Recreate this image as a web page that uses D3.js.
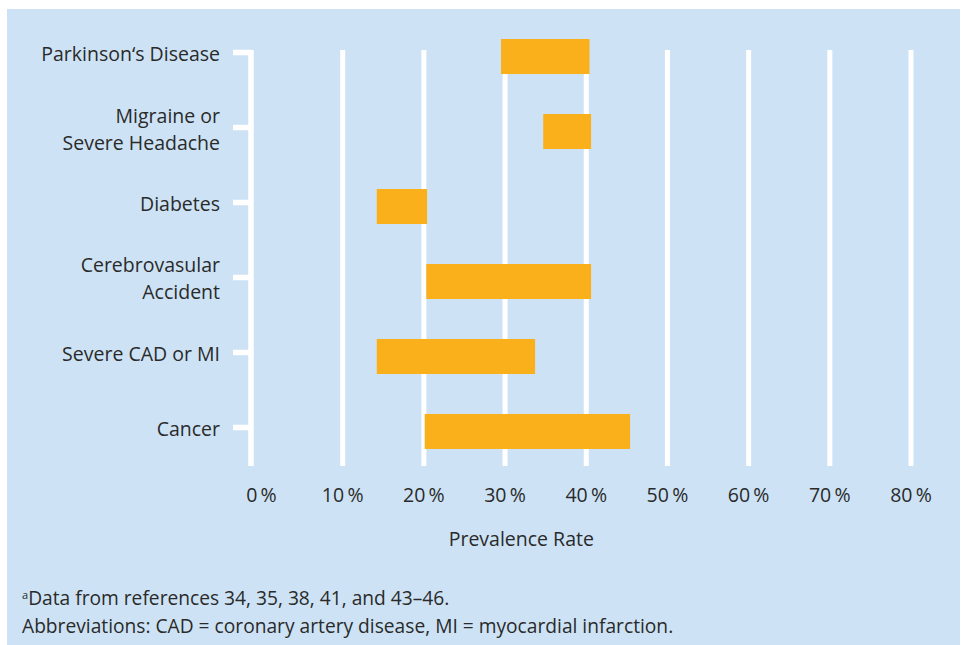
<body style="margin:0;background:#fff">
<div id="chart"></div>
<script src="https://d3js.org/d3.v7.min.js"></script>
<script>
// data
var categories = ["Parkinson\u2018s Disease", "Migraine or\nSevere Headache", "Diabetes", "Cerebrovasular\nAccident", "Severe CAD or MI", "Cancer"];
var lowValues  = [29.5, 34.7, 14.2, 20.3, 14.2, 20.1];
var highValues = [40.4, 40.6, 20.4, 40.6, 33.7, 45.4];
var tickValues = [0, 10, 20, 30, 40, 50, 60, 70, 80];
var tickLabels = ["0\u2009%", "10\u2009%", "20\u2009%", "30\u2009%", "40\u2009%", "50\u2009%", "60\u2009%", "70\u2009%", "80\u2009%"];
var xTitle = "Prevalence Rate";
var notes = ["Data from references 34, 35, 38, 41, and 43\u201346.", "Abbreviations: CAD = coronary artery disease, MI = myocardial infarction."];

var W = 961, H = 645;
var font = "'Open Sans', Roboto, sans-serif";
var ink = "#2a2a2a";
var fs = 19.5;

var svg = d3.select("#chart").append("svg")
    .attr("width", W).attr("height", H)
    .style("font-family", font);

// panel
svg.append("rect")
    .attr("x", 7).attr("y", 9)
    .attr("width", 953).attr("height", H - 9)
    .attr("fill", "#cde3f5");

var x = d3.scaleLinear().domain([0, 80]).range([261.5, 911]);
var y = d3.scaleBand().domain(categories).range([19, 469]).paddingInner(0.533).paddingOuter(0.2667);

var gridTop = 50, gridBottom = 466;

// gridlines
svg.append("g").selectAll("line")
    .data(tickValues.slice(1))
    .join("line")
    .attr("x1", d => x(d)).attr("x2", d => x(d))
    .attr("y1", gridTop).attr("y2", gridBottom)
    .attr("stroke", "#fff").attr("stroke-width", 5);

// y axis line + ticks (ticks sit ~4px above bar centre)
var axisX = 251;
svg.append("line")
    .attr("x1", axisX).attr("x2", axisX)
    .attr("y1", gridTop).attr("y2", gridBottom)
    .attr("stroke", "#fff").attr("stroke-width", 5.5);

var tickY = d => y(d) + y.bandwidth() / 2 - 4;

svg.append("g").selectAll("line")
    .data(categories)
    .join("line")
    .attr("x1", 233).attr("x2", axisX)
    .attr("y1", tickY).attr("y2", tickY)
    .attr("stroke", "#fff").attr("stroke-width", 5.5);

// category labels, one text per line
var labG = svg.append("g")
    .attr("text-anchor", "end")
    .attr("font-size", fs)
    .attr("fill", ink);
categories.forEach(function(d) {
    var lines = d.split("\n");
    lines.forEach(function(l, i) {
        labG.append("text")
            .attr("x", 220)
            .attr("y", tickY(d) + 8.5 + (i - (lines.length - 1) / 2) * 27)
            .text(l);
    });
});

// bars
svg.append("g").selectAll("rect")
    .data(categories)
    .join("rect")
    .attr("x", (d, i) => x(lowValues[i]))
    .attr("width", (d, i) => x(highValues[i]) - x(lowValues[i]))
    .attr("y", d => y(d))
    .attr("height", y.bandwidth())
    .attr("fill", "#f9b01a");

// x tick labels
svg.append("g").selectAll("text")
    .data(tickValues)
    .join("text")
    .attr("x", d => x(d))
    .attr("y", 502)
    .attr("text-anchor", "middle")
    .attr("font-size", fs)
    .attr("fill", ink)
    .text((d, i) => tickLabels[i]);

svg.append("text")
    .attr("x", x(32))
    .attr("y", 546)
    .attr("text-anchor", "middle")
    .attr("font-size", fs)
    .attr("fill", ink)
    .text(xTitle);

// footnotes
var n1 = svg.append("text")
    .attr("x", 22).attr("y", 605)
    .attr("font-size", 19.2)
    .attr("fill", ink);
n1.append("tspan").attr("font-size", 11).attr("dy", -6).text("a");
n1.append("tspan").attr("dy", 6).text(notes[0]);

svg.append("text")
    .attr("x", 22).attr("y", 633)
    .attr("font-size", 19.2)
    .attr("fill", ink)
    .text(notes[1]);
</script>
</body>
